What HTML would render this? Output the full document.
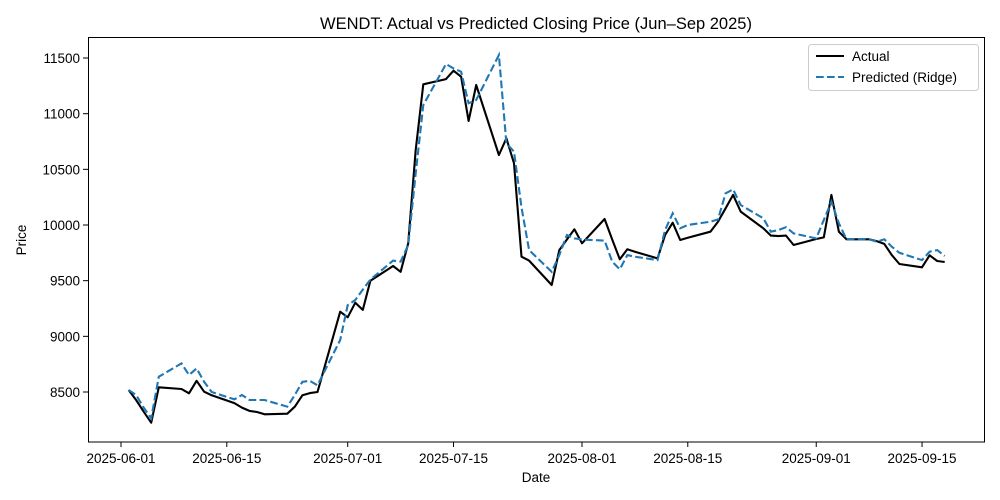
<!DOCTYPE html>
<html><head><meta charset="utf-8"><style>
html,body{margin:0;padding:0;background:#fff;}
svg{display:block;font-family:"Liberation Sans","DejaVu Sans",sans-serif;}
</style></head><body>
<svg id="chart" width="1000" height="500" viewBox="0 0 1000 500">
<rect x="0" y="0" width="1000" height="500" fill="#fff"/>
<text x="536" y="29" text-anchor="middle" font-size="16.5" fill="#000">WENDT: Actual vs Predicted Closing Price (Jun–Sep 2025)</text>
<g id="grid"></g>
<g id="series"></g>
<rect x="88.5" y="37.5" width="896" height="404.5" fill="none" stroke="#000" stroke-width="1"/>
<g id="xticks"></g>
<g id="yticks"></g>
<text x="536" y="482" text-anchor="middle" font-size="13.5">Date</text>
<text x="26" y="240" text-anchor="middle" font-size="13.5" transform="rotate(-90 26 240)">Price</text>
<g>
<rect x="808.5" y="44.5" width="170" height="46" rx="3" fill="#fff" fill-opacity="0.8" stroke="#ccc"/>
<line x1="816" y1="56" x2="844" y2="56" stroke="#000" stroke-width="2.1"/>
<text x="852" y="61" font-size="13.5">Actual</text>
<line x1="816" y1="77" x2="844" y2="77" stroke="#1f77b4" stroke-width="2.1" stroke-dasharray="7.7,3.3"/>
<text x="852" y="82" font-size="13.5">Predicted (Ridge)</text>
</g>
</svg>
<script>
const dates = ["2025-06-02","2025-06-03","2025-06-04","2025-06-05","2025-06-06","2025-06-09","2025-06-10","2025-06-11","2025-06-12","2025-06-13","2025-06-16","2025-06-17","2025-06-18","2025-06-19","2025-06-20","2025-06-23","2025-06-24","2025-06-25","2025-06-26","2025-06-27","2025-06-30",
"2025-07-01","2025-07-02","2025-07-03","2025-07-04","2025-07-07","2025-07-08","2025-07-09","2025-07-10","2025-07-11","2025-07-14","2025-07-15","2025-07-16","2025-07-17","2025-07-18","2025-07-21","2025-07-22","2025-07-23","2025-07-24","2025-07-25","2025-07-28","2025-07-29","2025-07-30","2025-07-31",
"2025-08-01","2025-08-04","2025-08-05","2025-08-06","2025-08-07","2025-08-08","2025-08-11","2025-08-12","2025-08-13","2025-08-14","2025-08-15","2025-08-18","2025-08-19","2025-08-20","2025-08-21","2025-08-22","2025-08-25","2025-08-26","2025-08-27","2025-08-28","2025-08-29",
"2025-09-01","2025-09-02","2025-09-03","2025-09-04","2025-09-05","2025-09-08","2025-09-09","2025-09-10","2025-09-11","2025-09-12","2025-09-15","2025-09-16","2025-09-17","2025-09-18"];
const actual = [8518,8428,8323,8224,8542,8527,8488,8601,8503,8470,8400,8360,8330,8320,8300,8305,8368,8470,8490,8500,9221,
9171,9302,9237,9500,9632,9580,9835,10674,11264,11311,11386,11332,10934,11258,10629,10779,10554,9715,9680,9461,9775,9870,9961,
9836,10054,9870,9692,9782,9760,9700,9910,10021,9865,9885,9940,10030,10150,10270,10120,9970,9905,9900,9905,9820,
9874,9889,10270,9940,9872,9872,9855,9830,9730,9650,9620,9728,9677,9668];
const predicted = [8518,8473,8360,8264,8637,8757,8653,8712,8592,8500,8434,8473,8428,8428,8428,8368,8473,8592,8600,8560,8967,
9281,9326,9420,9510,9680,9670,9820,10464,11078,11446,11407,11377,11093,11123,11527,10734,10659,10157,9775,9580,9730,9910,9880,
9870,9860,9670,9602,9730,9715,9685,9955,10105,9970,10000,10030,10050,10285,10320,10180,10060,9940,9955,9980,9925,
9880,10045,10210,10015,9872,9872,9850,9872,9805,9750,9685,9760,9775,9722];
const xTickLabels = ["2025-06-01","2025-06-15","2025-07-01","2025-07-15","2025-08-01","2025-08-15","2025-09-01","2025-09-15"];
const yTickValues = [8500,9000,9500,10000,10500,11000,11500];

const NS="http://www.w3.org/2000/svg";
const t0 = Date.UTC(2025,5,1);
function dayNum(s){const p=s.split("-");return (Date.UTC(+p[0],+p[1]-1,+p[2])-t0)/86400000;}
function xScale(s){return 121 + dayNum(s)*7.557;}
function yScale(v){return 392 - (v-8500)*0.11133;}

const xt=document.getElementById("xticks");
xTickLabels.forEach(l=>{
  const x=xScale(l);
  const ln=document.createElementNS(NS,"line");
  ln.setAttribute("x1",x);ln.setAttribute("x2",x);ln.setAttribute("y1",442);ln.setAttribute("y2",447);
  ln.setAttribute("stroke","#000");
  
  
  xt.appendChild(ln);
  const tx=document.createElementNS(NS,"text");
  tx.setAttribute("x",x);tx.setAttribute("y",463);tx.setAttribute("text-anchor","middle");tx.setAttribute("font-size","13.5");
  tx.textContent=l;
  
  
  xt.appendChild(tx);
});
const yt=document.getElementById("yticks");
yTickValues.forEach(v=>{
  const y=yScale(v);
  const ln=document.createElementNS(NS,"line");
  ln.setAttribute("x1",83);ln.setAttribute("x2",88);ln.setAttribute("y1",y);ln.setAttribute("y2",y);
  ln.setAttribute("stroke","#000");
  
  
  yt.appendChild(ln);
  const tx=document.createElementNS(NS,"text");
  tx.setAttribute("x",80);tx.setAttribute("y",y+5);tx.setAttribute("text-anchor","end");tx.setAttribute("font-size","13.5");
  tx.textContent=String(v);
  
  
  yt.appendChild(tx);
});
const sg=document.getElementById("series");
function pts(arr){return dates.map((d,i)=>xScale(d).toFixed(1)+","+yScale(arr[i]).toFixed(1)).join(" ");}
const pa=document.createElementNS(NS,"polyline");
pa.setAttribute("points",pts(actual));pa.setAttribute("fill","none");pa.setAttribute("stroke","#000");
pa.setAttribute("stroke-width","2.1");pa.setAttribute("stroke-linejoin","round");


sg.appendChild(pa);
const pp=document.createElementNS(NS,"polyline");
pp.setAttribute("points",pts(predicted));pp.setAttribute("fill","none");pp.setAttribute("stroke","#1f77b4");
pp.setAttribute("stroke-width","2.1");pp.setAttribute("stroke-dasharray","7.7,3.3");


sg.appendChild(pp);
</script>
</body></html>
